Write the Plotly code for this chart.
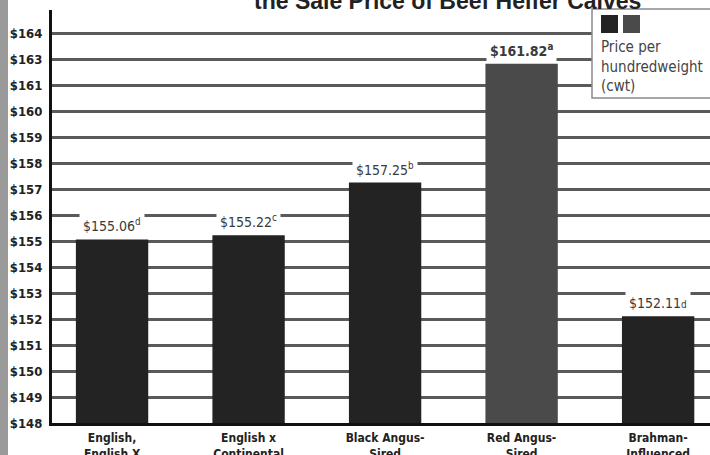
import plotly.graph_objects as go

categories = ["English,<br>English X", "English x<br>Continental", "Black Angus-<br>Sired",
              "Red Angus-<br>Sired", "Brahman-<br>Influenced"]
prices = [155.06, 155.22, 157.25, 161.82, 152.11]
value_labels = ["$155.06<sup>d</sup>", "$155.22<sup>c</sup>", "$157.25<sup>b</sup>",
                "<b>$161.82<sup>a</sup></b>", "$152.11<span style='font-size:10px'>d</span>"]
bar_colors = ["#232323", "#232323", "#232323", "#4a4a4a", "#232323"]
tick_vals = [148, 149, 150, 151, 152, 153, 154, 155, 156, 157, 158, 159, 160, 161, 162, 163]
tick_text = ["$148", "$149", "$150", "$151", "$152", "$153", "$154", "$155", "$156",
             "$157", "$158", "$159", "$160", "$161", "$163", "$164"]
legend_text = "Price per<br>hundredweight<br>(cwt)"
title_text = "the Sale Price of Beef Heifer Calves"

W, H = 710, 455
L, R, T, B = 52, 0, 10, 32
PW, PH = W - L - R, H - T - B

def px(x):
    return (x - L) / PW

def py(y):
    return (H - B - y) / PH

fig = go.Figure()
fig.add_trace(go.Bar(
    x=list(range(len(categories))), y=prices,
    marker=dict(color=bar_colors, line=dict(width=0)),
    width=0.53, showlegend=False, hoverinfo="skip",
))

for i, (v, t) in enumerate(zip(prices, value_labels)):
    fig.add_annotation(
        x=i, y=v, xref="x", yref="y", text=t, showarrow=False,
        yanchor="bottom", yshift=1, bgcolor="white", borderpad=3,
        font=dict(family="Liberation Sans Narrow, Arial Narrow, DejaVu Sans Condensed",
                  size=14, color="#3a3a3a"),
    )

shapes = []
# scan edge on the left
shapes.append(dict(type="rect", xref="paper", yref="paper",
                   x0=px(0), x1=px(8), y0=py(H + 5), y1=py(-5),
                   fillcolor="#9a9a9a", line=dict(width=0), layer="above"))
# legend box
shapes.append(dict(type="rect", xref="paper", yref="paper",
                   x0=px(592), x1=px(720), y0=py(98), y1=py(9),
                   fillcolor="white", line=dict(color="#8a8a8a", width=1.5), layer="above"))
shapes.append(dict(type="rect", xref="paper", yref="paper",
                   x0=px(601), x1=px(618), y0=py(33), y1=py(15),
                   fillcolor=bar_colors[0], line=dict(width=0), layer="above"))
shapes.append(dict(type="rect", xref="paper", yref="paper",
                   x0=px(623), x1=px(640), y0=py(33), y1=py(15),
                   fillcolor=bar_colors[3], line=dict(width=0), layer="above"))

fig.add_annotation(
    x=px(599), y=py(36), xref="paper", yref="paper", text=legend_text,
    showarrow=False, xanchor="left", yanchor="top", align="left",
    font=dict(family="Liberation Sans Narrow, Arial Narrow, DejaVu Sans Condensed",
              size=15, color="#444444"),
)
fig.add_annotation(
    x=px(447), y=py(16), xref="paper", yref="paper", text="<b>" + title_text + "</b>",
    showarrow=False, xanchor="center", yanchor="bottom",
    font=dict(family="Liberation Sans, Arial", size=23, color="#222222"),
)

fig.update_layout(
    width=W, height=H,
    margin=dict(l=L, r=R, t=T, b=B, pad=0, autoexpand=False),
    paper_bgcolor="white", plot_bgcolor="white",
    shapes=shapes, bargap=0.4,
    xaxis=dict(
        range=[-0.44, 4.38], tickmode="array",
        tickvals=list(range(len(categories))),
        ticktext=["<b>" + c + "</b>" for c in categories],
        tickfont=dict(family="Liberation Sans Narrow, Arial Narrow, DejaVu Sans Condensed",
                      size=12, color="#222222"),
        showgrid=False, showline=True, linecolor="#111111", linewidth=3,
        ticks="", zeroline=False, ticklabelstandoff=2, automargin=False,
    ),
    yaxis=dict(
        range=[148, 163.885], tickmode="array",
        tickvals=tick_vals, ticktext=["<b>" + t + "</b>" for t in tick_text],
        tickfont=dict(family="Liberation Sans Narrow, Arial Narrow, DejaVu Sans Condensed",
                      size=13, color="#222222"),
        showgrid=True, gridcolor="#5a5a5a", gridwidth=2.5,
        showline=True, linecolor="#111111", linewidth=3,
        ticks="", zeroline=False, ticklabelstandoff=4, automargin=False,
    ),
)

fig.write_html("out.html", config={"displayModeBar": False},
               post_script="document.body.style.margin='0';document.body.style.overflow='hidden';")
